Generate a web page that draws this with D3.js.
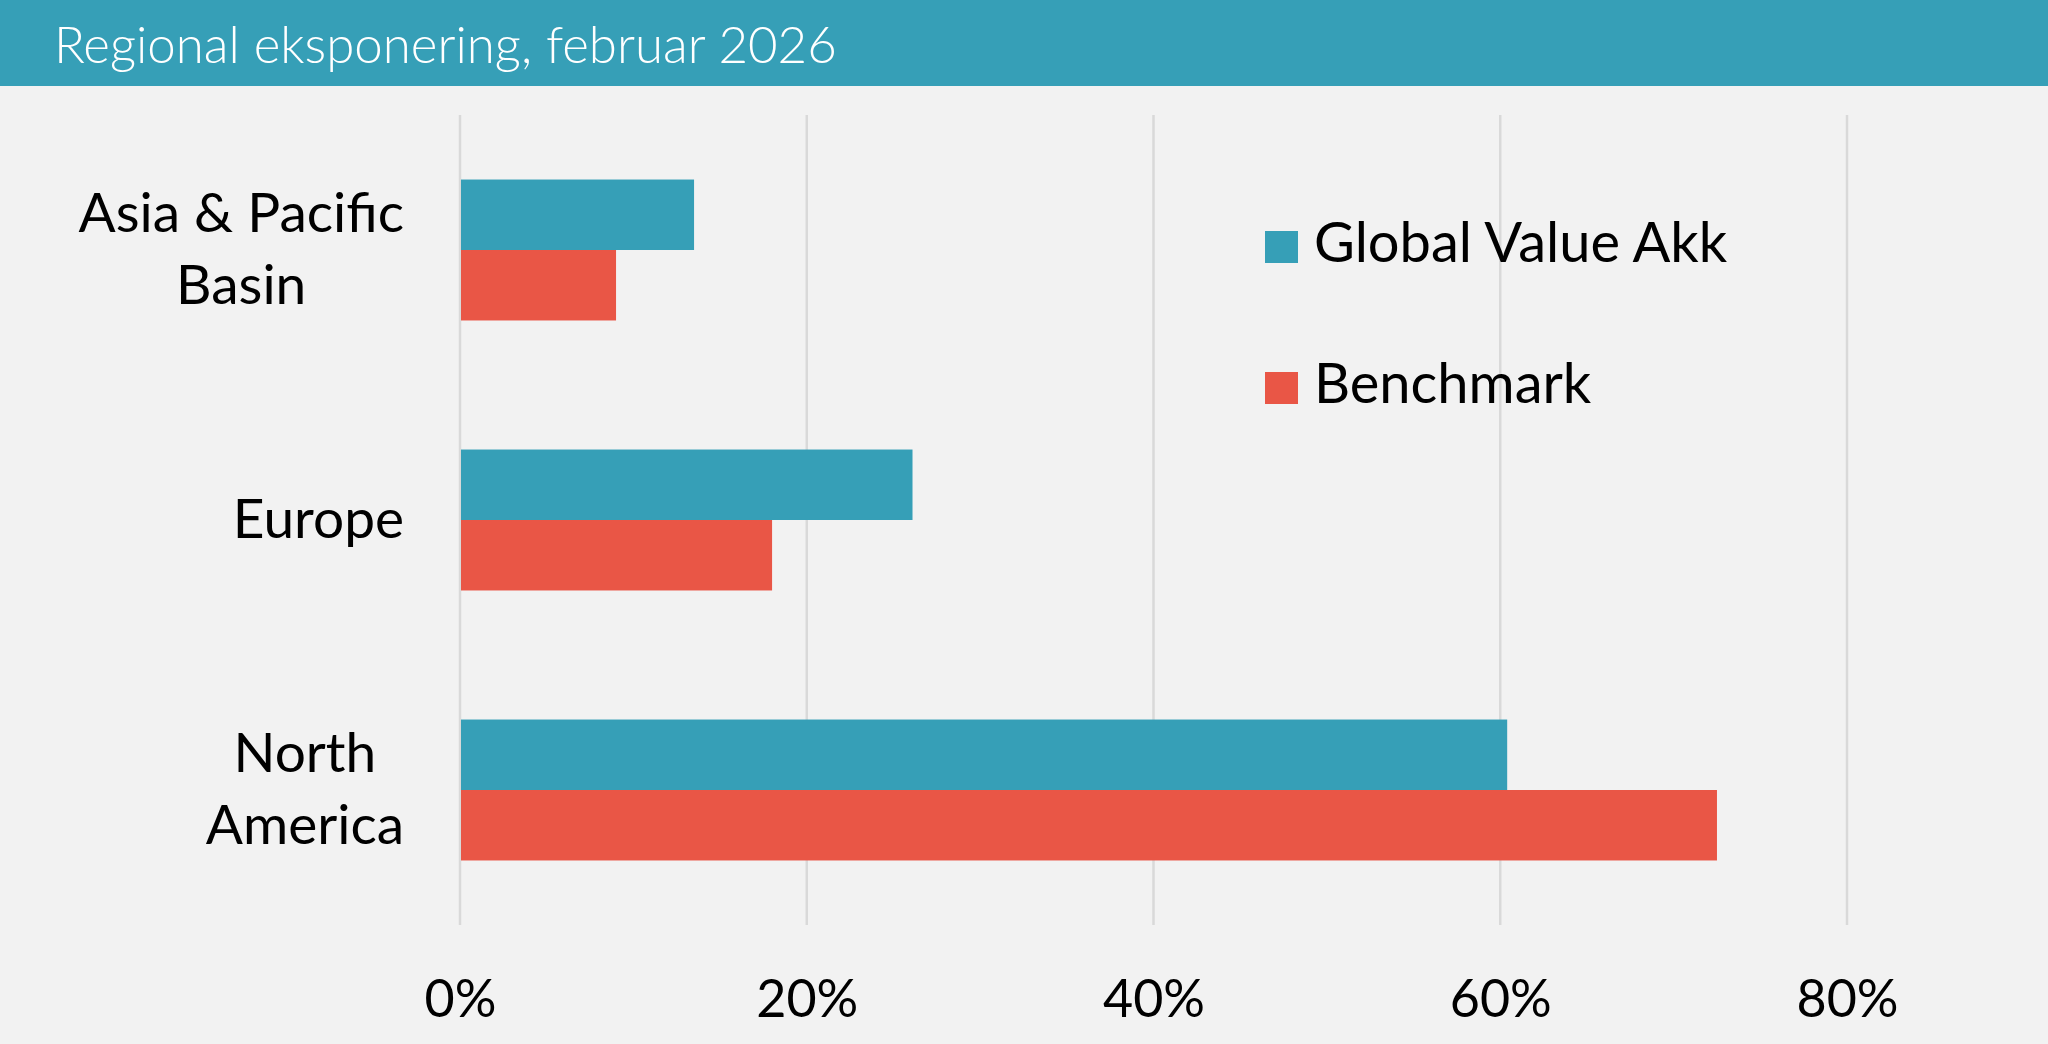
<!DOCTYPE html>
<html>
<head>
<meta charset="utf-8">
<script src="https://cdn.jsdelivr.net/npm/d3@7"></script>
<style>
  html, body { margin: 0; padding: 0; background: #f2f2f2; }
  svg { display: block; font-family: Lato, "Noto Sans", sans-serif; }
</style>
</head>
<body>
<div id="chart"></div>
<script>
var regions = [["Asia & Pacific", "Basin"], ["Europe"], ["North", "America"]];
var seriesNames = ["Global Value Akk", "Benchmark"];
var fundValues = [13.5, 26.1, 60.4];
var benchValues = [9.0, 18.0, 72.5];
var xTicks = [0, 20, 40, 60, 80];
var colors = ["#369fb7", "#e95646"];

var W = 2048, H = 1044;
var svg = d3.select("#chart").append("svg")
  .attr("width", W).attr("height", H);

svg.append("rect").attr("width", W).attr("height", H).attr("fill", "#f2f2f2");

// header band
svg.append("rect").attr("width", W).attr("height", 86).attr("fill", "#369fb7");
svg.append("text")
  .attr("x", 54).attr("y", 63)
  .attr("fill", "#ffffff")
  .style("font-size", "51px")
  .style("font-weight", 300)
  .text("Regional eksponering, februar 2026");

var x = d3.scaleLinear().domain([0, 80]).range([460, 1847]);
var y = d3.scaleBand()
  .domain(d3.range(regions.length))
  .range([115, 925])
  .paddingInner(0.478)
  .paddingOuter(0.239);
var sub = d3.scaleBand().domain([0, 1]).range([0, y.bandwidth()]);

// gridlines
svg.append("g").selectAll("line")
  .data(xTicks)
  .join("line")
  .attr("x1", d => x(d)).attr("x2", d => x(d))
  .attr("y1", 115).attr("y2", 925)
  .attr("stroke", "#d9d9d9")
  .attr("stroke-width", 2.5);

// x axis labels
var xAxis = d3.axisBottom(x).tickValues(xTicks).tickFormat(d => d + "%").tickSize(0).tickPadding(0);
var gx = svg.append("g").attr("transform", "translate(0,982)").call(xAxis);
gx.select(".domain").remove();
gx.selectAll("text")
  .attr("dy", 0).attr("y", 35)
  .attr("fill", "#000")
  .style("font-family", "Lato, 'Noto Sans', sans-serif")
  .style("font-size", "52px");

// bars
var rows = regions.map((r, i) => ({ i: i, vals: [fundValues[i], benchValues[i]] }));
var groups = svg.append("g").selectAll("g")
  .data(rows)
  .join("g")
  .attr("transform", d => "translate(0," + y(d.i) + ")");
groups.selectAll("rect")
  .data(d => d.vals.map((v, k) => ({ v: v, k: k })))
  .join("rect")
  .attr("x", x(0) + 1)
  .attr("y", d => sub(d.k))
  .attr("width", d => x(d.v) - x(0) - 1)
  .attr("height", sub.bandwidth())
  .attr("fill", d => colors[d.k]);

// category labels (lines centred on each other, block right-aligned)
var lineH = 72;
rows.forEach(function(r) {
  var lines = regions[r.i];
  var cy = y(r.i) + y.bandwidth() / 2;
  var g = svg.append("g");
  var t = g.append("text")
    .attr("text-anchor", "middle")
    .attr("fill", "#000")
    .style("font-size", "55px");
  lines.forEach(function(l, j) {
    t.append("tspan")
      .attr("x", 0)
      .attr("y", cy + 18 + (j - (lines.length - 1) / 2) * lineH)
      .text(l);
  });
  var bb = t.node().getBBox();
  g.attr("transform", "translate(" + (404 - bb.width / 2) + ",0)");
});

// legend
var legend = svg.append("g").selectAll("g")
  .data(seriesNames)
  .join("g")
  .attr("transform", (d, i) => "translate(1265," + (231 + i * 141) + ")");
legend.append("rect")
  .attr("width", 33).attr("height", 32)
  .attr("fill", (d, i) => colors[i]);
legend.append("text")
  .attr("x", 49).attr("y", 31)
  .attr("fill", "#000")
  .style("font-size", "56px")
  .text(d => d);
</script>
</body>
</html>
